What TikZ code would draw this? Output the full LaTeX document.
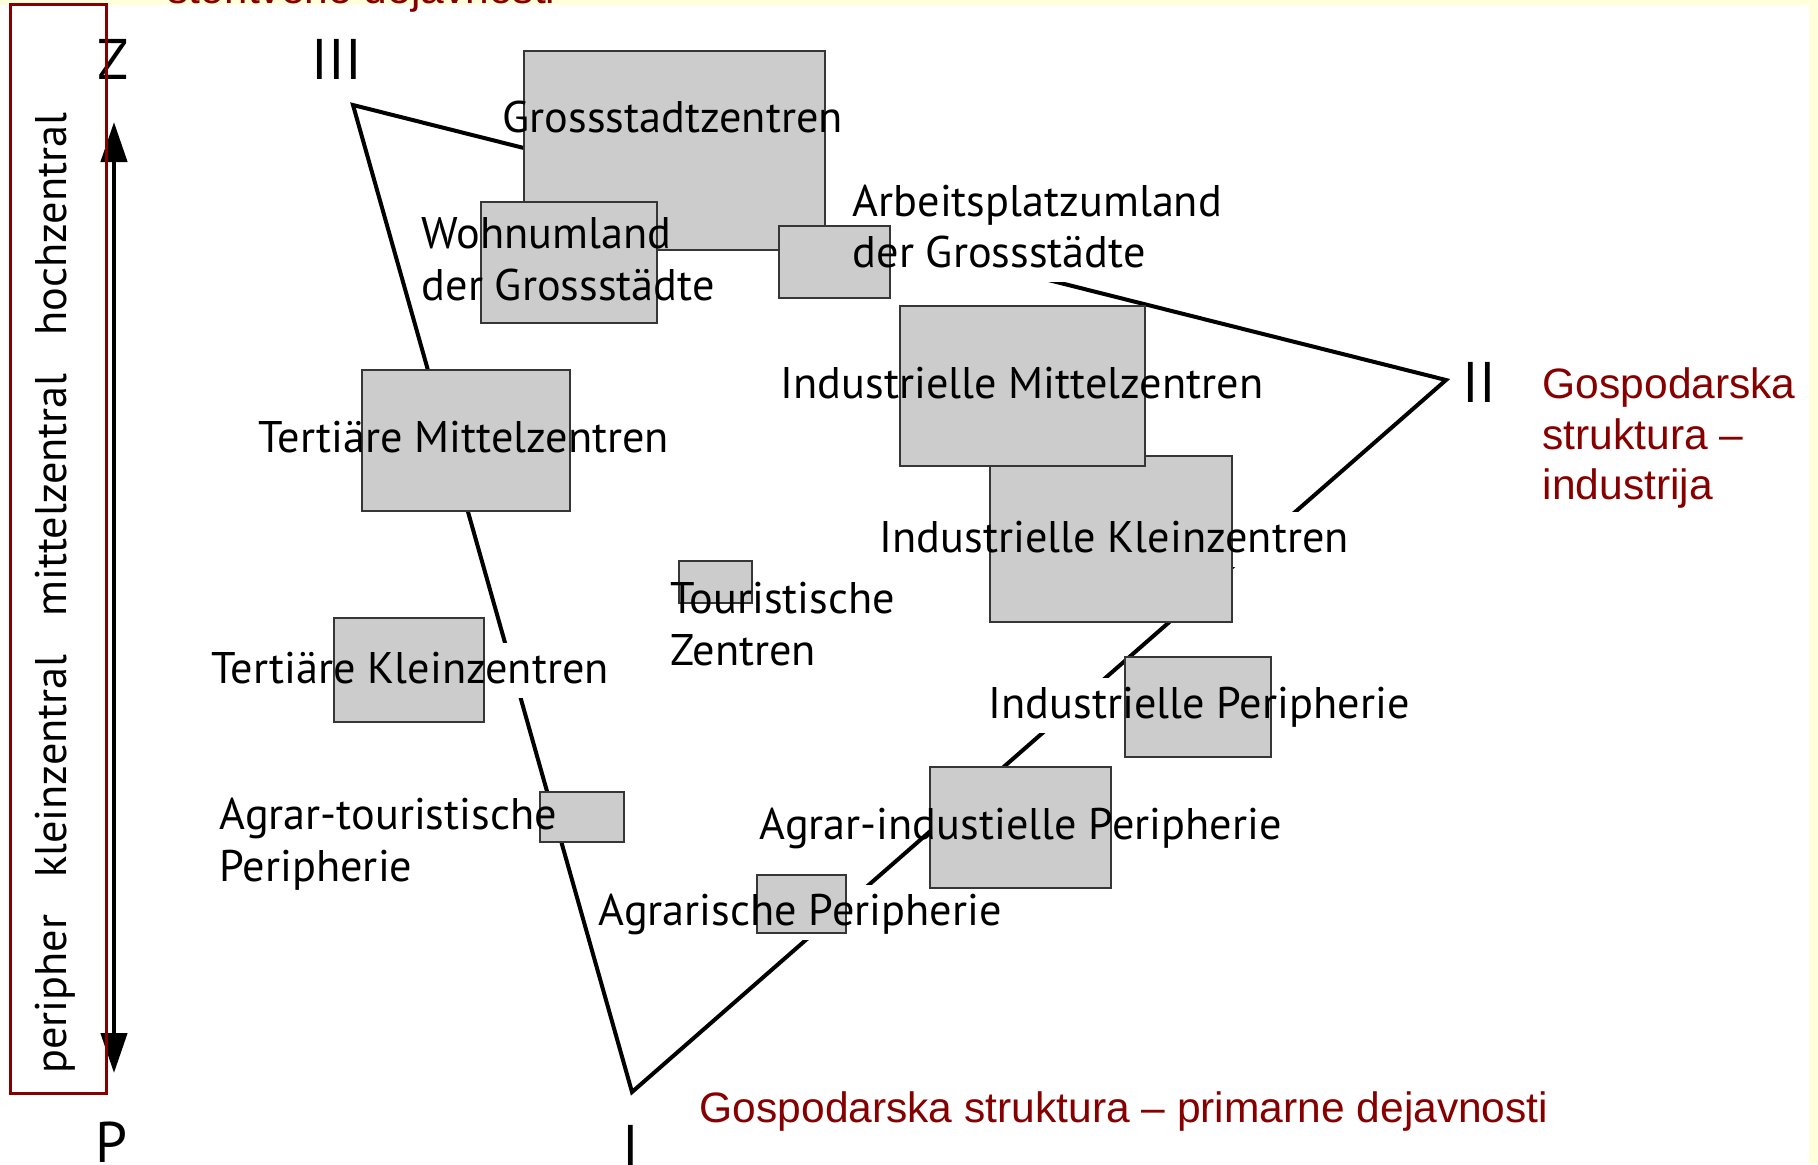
\documentclass[tikz,border=0pt]{standalone}
\usepackage{fontspec}
\setmainfont{PT Sans}
\newfontfamily\redfont{Liberation Sans}
\usetikzlibrary{arrows.meta, fit}
\definecolor{maroon}{HTML}{860000}
\definecolor{slidebg}{HTML}{FFFFDC}
\definecolor{cellfill}{HTML}{CCCCCC}
\definecolor{celledge}{HTML}{363636}
\pgfdeclarelayer{bg}
\pgfdeclarelayer{lines}
\pgfdeclarelayer{halo}
\pgfdeclarelayer{boxes}
\pgfsetlayers{bg,lines,halo,boxes,main}

\begin{document}
\begin{tikzpicture}[
  x=0.1mm, y=-0.1mm,
  cell/.style={draw=celledge, fill=cellfill, line width=0.2mm, inner sep=0pt},
  lbl/.style={anchor=base west, inner sep=0.3mm, text height=3.6mm, text depth=1.1mm,
              font=\fontsize{12.6}{15}\selectfont},
  numeral/.style={anchor=base, inner sep=0pt, font=\fontsize{16.3}{18}\selectfont},
  axislbl/.style={anchor=base, rotate=90, inner sep=0pt, font=\fontsize{12.6}{15}\selectfont},
  redlbl/.style={anchor=base west, inner sep=0pt, text=maroon,
                 font=\redfont\fontsize{12.1}{14}\selectfont},
  tri/.style={draw=black, line width=0.4mm, line join=miter},
  axisarrow/.style={{Triangle[length=4mm, width=2.6mm]}-{Triangle[length=4mm, width=2.6mm]},
                    line width=0.45mm, draw=black},
  redframe/.style={draw=maroon, line width=0.3mm}
]
  \useasboundingbox (0,0) rectangle (1818,1164);

  % Slide background
  \begin{pgfonlayer}{bg}
    \fill[slidebg] (0,0) rectangle (1818,1164);
    \fill[white] (0,5) rectangle (1809,1164);
  \end{pgfonlayer}

  % Grey boxes
  \begin{pgfonlayer}{boxes}
    \node[cell, fit={(524,51) (825,250)}] (gross) {};
    \node[cell, fit={(481,202) (657,323)}] (wohn) {};
    \node[cell, fit={(779,226) (890,298)}] (arb) {};
    \node[cell, fit={(990,456) (1232,622)}] (ik) {};
    \node[cell, fit={(900,306) (1145,466)}] (im) {};
    \node[cell, fit={(362,370) (570,511)}] (tm) {};
    \node[cell, fit={(334,618) (484,722)}] (tk) {};
    \node[cell, fit={(679,561) (752,603)}] (tz) {};
    \node[cell, fit={(540,792) (624,842)}] (at) {};
    \node[cell, fit={(1125,657) (1271,757)}] (ip) {};
    \node[cell, fit={(930,767) (1111,888)}] (ai) {};
    \node[cell, fit={(757,875) (846,933)}] (ap) {};
  \end{pgfonlayer}

  % Box labels
  \node[lbl] (grossL) at (499,132) {Grossstadtzentren};
  \node[lbl] (wohnA) at (418,248) {Wohnumland};
  \node[lbl] (wohnB) at (418,300) {der Grossstädte};
  \node[lbl] (arbA) at (849,216) {Arbeitsplatzumland};
  \node[lbl] (arbB) at (849,267) {der Grossstädte};
  \node[lbl] (imL) at (777,398) {Industrielle Mittelzentren};
  \node[lbl] (ikL) at (876,552) {Industrielle Kleinzentren};
  \node[lbl] (ipL) at (985,718) {Industrielle Peripherie};
  \node[lbl] (aiL) at (756,839) {Agrar-industielle Peripherie};
  \node[lbl] (apL) at (595,925) {Agrarische Peripherie};
  \node[lbl] (atA) at (216,829) {Agrar-touristische};
  \node[lbl] (atB) at (216,881) {Peripherie};
  \node[lbl] (tmL) at (255,452) {Tertiäre Mittelzentren};
  \node[lbl] (tkL) at (208,683) {Tertiäre Kleinzentren};
  \node[lbl] (tzA) at (667,613) {Touristische};
  \node[lbl] (tzB) at (667,665) {Zentren};

  % White gaps in the triangle behind some labels
  \begin{pgfonlayer}{halo}
    \foreach \n in {arbB, ikL, ipL, tkL, apL}
      \fill[white] (\n.south west) rectangle (\n.north east);
    \fill[white] (gross.north east) rectangle (arb.north west -| arbA.west);
  \end{pgfonlayer}

  % Triangle
  \coordinate (vIII) at (353,105);
  \coordinate (vII) at (1446,380);
  \coordinate (vI) at (632,1092);
  \begin{pgfonlayer}{lines}
    \draw[tri] (vIII) -- (vII) -- (vI) -- cycle;
  \end{pgfonlayer}

  \node[numeral] (nIII) at (337,79) {III};
  \node[numeral] (nII) at (1479,402) {II};
  \node[numeral] (nI) at (631,1165) {I};

  % Centrality axis
  \node[numeral] (zZ) at (113,79) {Z};
  \node[numeral] (zP) at (112,1162) {P};
  \coordinate (axtop) at (114,122);
  \coordinate (axbot) at (114,1073);
  \draw[axisarrow] (axbot) -- (axtop);

  \node[axislbl] (hoch) at (66,224) {hochzentral};
  \node[axislbl] (mittel) at (66,495) {mittelzentral};
  \node[axislbl] (klein) at (66,766) {kleinzentral};
  \node[axislbl] (peri) at (66,994) {peripher};
  \draw[redframe] (10,4) rectangle (106,1093);

  % Sector captions
  \node[redlbl] (servL) at (167,3) {storitvene dejavnosti};
  \node[redlbl] (indA) at (1542,398) {Gospodarska};
  \node[redlbl] (indB) at (1542,449) {struktura –};
  \node[redlbl] (indC) at (1542,499) {industrija};
  \node[redlbl] (primL) at (699,1122) {Gospodarska struktura – primarne dejavnosti};
\end{tikzpicture}
\end{document}
